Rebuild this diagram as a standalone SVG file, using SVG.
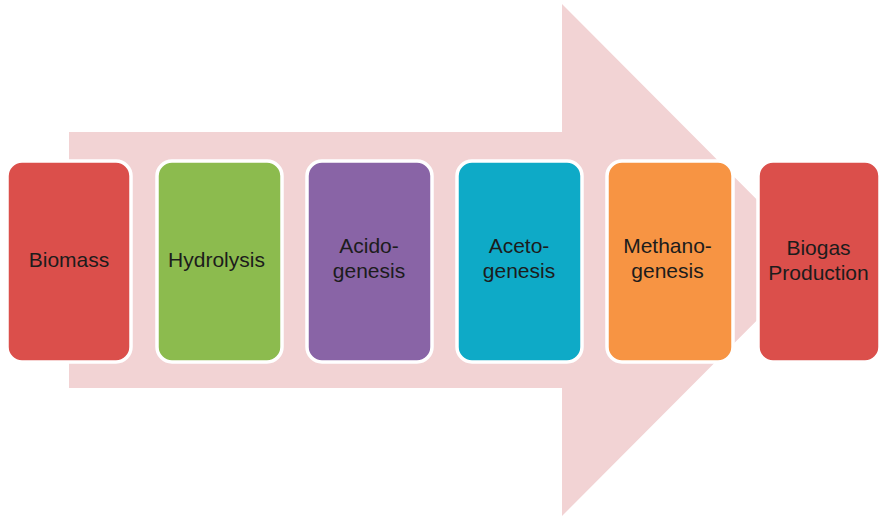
<svg xmlns="http://www.w3.org/2000/svg" width="879" height="517" viewBox="0 0 879 517">
  <style>
    .stage { stroke: #ffffff; stroke-width: 3.5; }
    .label { font-family: "Liberation Sans", Arial, sans-serif; font-size: 21px; fill: #1c1c1c; text-anchor: middle; }
  </style>
  <rect width="879" height="517" fill="#ffffff"/>
  <!-- Background process arrow -->
  <g id="connectors">
    <polygon points="69,132 562,132 562,4 817,260 562,516 562,388 69,388" fill="#f2d3d4"/>
  </g>
  <g id="biomass">
    <rect class="stage" x="7" y="161" width="124" height="201" rx="15" fill="#db4f4b"/>
    <text class="label" x="69" y="267">Biomass</text>
  </g>
  <g id="hydrolysis">
    <rect class="stage" x="157" y="161" width="125" height="201" rx="15" fill="#8cbb4e"/>
    <text class="label" x="216.5" y="267">Hydrolysis</text>
  </g>
  <g id="acidogenesis">
    <rect class="stage" x="307" y="161" width="125" height="201" rx="15" fill="#8964a6"/>
    <text class="label" x="369" y="253">Acido-</text>
    <text class="label" x="369" y="278">genesis</text>
  </g>
  <g id="acetogenesis">
    <rect class="stage" x="457" y="161" width="125" height="201" rx="15" fill="#0eaac7"/>
    <text class="label" x="519" y="253">Aceto-</text>
    <text class="label" x="519" y="278">genesis</text>
  </g>
  <g id="methanogenesis">
    <rect class="stage" x="607" y="161" width="126" height="201" rx="15" fill="#f79443"/>
    <text class="label" x="667.5" y="253">Methano-</text>
    <text class="label" x="667.5" y="278">genesis</text>
  </g>
  <g id="biogas-production">
    <rect class="stage" x="758" y="161" width="122" height="201" rx="15" fill="#db4f4b"/>
    <text class="label" x="818.5" y="255">Biogas</text>
    <text class="label" x="818.5" y="280">Production</text>
  </g>
</svg>
